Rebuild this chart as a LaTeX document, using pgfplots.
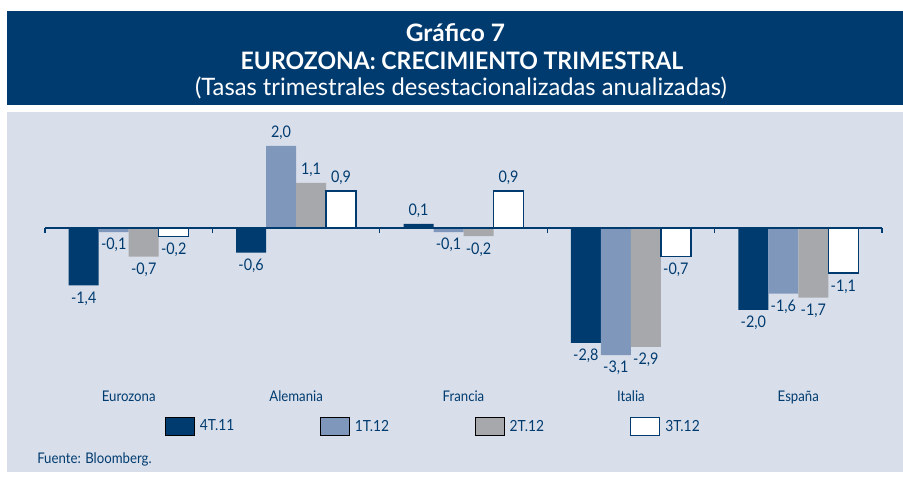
\documentclass[border=0pt]{standalone}
\usepackage{pgfplots}
\pgfplotsset{compat=1.18}
\usepackage{fontspec}
\setmainfont{Lato}[FakeStretch=0.9]
\newfontfamily\titleone{Lato}[FakeStretch=1.02]
\newfontfamily\titlebold{Lato}[FakeStretch=0.96]
\newfontfamily\titlereg{Lato}[FakeStretch=0.99]
\definecolor{navy}{RGB}{0,59,112}
\definecolor{midblue}{RGB}{127,151,187}
\definecolor{greyb}{RGB}{167,168,171}
\definecolor{panel}{RGB}{217,223,234}
\begin{document}
\begin{tikzpicture}
\begin{scope}[x=0.75pt,y=0.75pt]
\path (0,0) rectangle (903,477);
\fill[navy] (7,466) rectangle (903,372);
\fill[panel] (7,364.5) rectangle (903,5);
\node[white,font=\titleone\bfseries\fontsize{18}{21}\selectfont] at (455.5,444.5) {Gráfico 7};
\node[white,font=\titlebold\bfseries\fontsize{18}{21}\selectfont] at (462,416.5) {EUROZONA: CRECIMIENTO TRIMESTRAL};
\node[white,font=\titlereg\fontsize{18}{21}\selectfont] at (461,389) {(Tasas trimestrales desestacionalizadas anualizadas)};
\node[navy,anchor=west,inner sep=0pt,font=\fontsize{11}{13}\selectfont] at (37,18) {Fuente: Bloomberg.};
\end{scope}
\begin{axis}[
  at={(33.75pt,76.05pt)}, anchor=south west,
  scale only axis, width=627.75pt, height=195.26pt,
  xmin=-0.5, xmax=4.5, ymin=-3.6, ymax=2.75,
  axis line style={draw=none},
  ytick=\empty,
  xtick={0,1,2,3,4},
  xticklabels={Eurozona,Alemania,Francia,Italia,España},
  major tick length=0pt,
  tick label style={navy,font=\fontsize{11}{13}\selectfont},
  xticklabel style={yshift=-8pt},
  clip=false,
  ybar=0pt, bar width=22.5pt,
  legend image code/.code={\draw[#1] (0pt,-6.75pt) rectangle (21.75pt,6.75pt);},
  legend columns=4,
  legend style={at={(0.1434,-0.1955)}, anchor=west, draw=none, fill=none,
    inner sep=0pt, outer sep=0pt,
    nodes={text width=90pt, inner sep=0pt, align=left, anchor=west, text=navy, font=\fontsize{11.5}{13}\selectfont},
    /tikz/every odd column/.append style={column sep=4pt}},
  nodes near coords={\pgfmathprintnumber[fixed,fixed zerofill,precision=1,use comma,assume math mode=true]{\pgfplotspointmeta}},
  every node near coord/.append style={navy,inner sep=4.5pt,font=\fontsize{12}{14}\selectfont},
]
\addplot[fill=navy,draw=none] coordinates {(0,-1.4) (1,-0.6) (2,0.1) (3,-2.8) (4,-2.0)};
\addplot[fill=midblue,draw=none] coordinates {(0,-0.1) (1,2.0) (2,-0.1) (3,-3.1) (4,-1.6)};
\addplot[fill=greyb,draw=none] coordinates {(0,-0.7) (1,1.1) (2,-0.2) (3,-2.9) (4,-1.7)};
\addplot[fill=white,draw=navy,line width=1pt] coordinates {(0,-0.2) (1,0.9) (2,0.9) (3,-0.7) (4,-1.1)};
\legend{4T.11,1T.12,2T.12,3T.12}
\draw[navy,line width=0.9pt] (axis cs:-0.5,0) -- (axis cs:4.5,0);
\pgfplotsinvokeforeach{-0.5,0.5,1.5,2.5,3.5,4.5}{\draw[navy,line width=0.9pt] (axis cs:#1,0) -- ([yshift=-3.5pt]axis cs:#1,0);}
\end{axis}
\end{tikzpicture}
\end{document}
